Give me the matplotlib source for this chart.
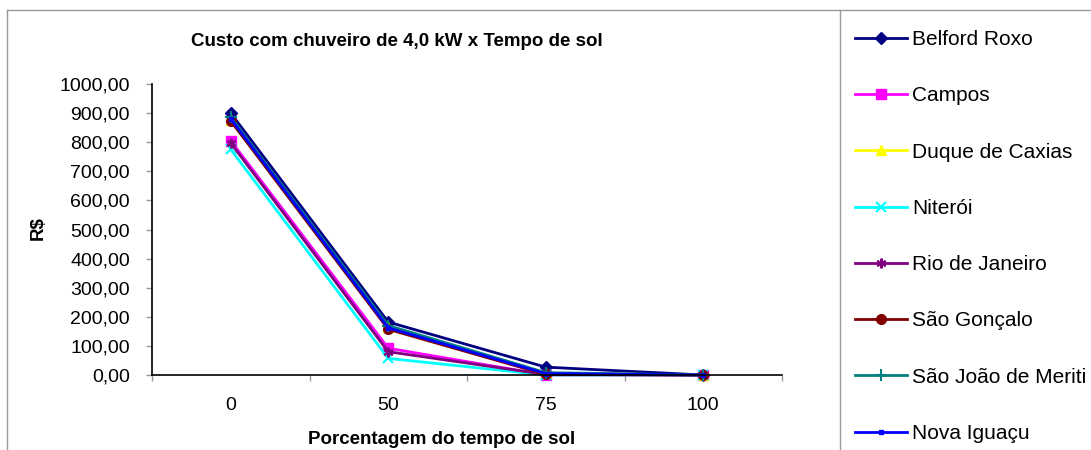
import matplotlib
matplotlib.use("Agg")
import matplotlib.pyplot as plt
from matplotlib.lines import Line2D

plt.rcParams['font.family'] = ['Liberation Sans', 'DejaVu Sans']

# dados
categorias = ["0", "50", "75", "100"]
belford_roxo = [900, 182, 27, 0]
campos = [805, 92, 0, 0]
duque_de_caxias = [875, 165, 6, 0]
niteroi = [775, 57, 0, 0]
rio_de_janeiro = [797, 80, 2, 0]
sao_goncalo = [873, 157, 2, 0]
sao_joao_de_meriti = [885, 170, 8, 0]
nova_iguacu = [880, 162, 5, 0]

nomes = ["Belford Roxo", "Campos", "Duque de Caxias", "Niterói",
         "Rio de Janeiro", "São Gonçalo", "São João de Meriti", "Nova Iguaçu"]
series = [belford_roxo, campos, duque_de_caxias, niteroi,
          rio_de_janeiro, sao_goncalo, sao_joao_de_meriti, nova_iguacu]
yticks = [0, 100, 200, 300, 400, 500, 600, 700, 800, 900, 1000]

cores = ["#000080", "#FF00FF", "#FFFF00", "#00FFFF",
         "#800080", "#800000", "#008080", "#0000FF"]
marcadores = ["D", "s", "^", "x", (6, 2, 0), "o", "+", "s"]
tamanhos = [6, 7, 7, 7, 7, 7, 8, 3.5]

W, H = 1091, 450
fig = plt.figure(figsize=(W / 100, H / 100), dpi=100)
ax = fig.add_axes([152 / W, 1 - 375 / H, (782 - 152) / W, (375 - 84) / H])

x = list(range(len(categorias)))
for nome, vals, c, m, s in zip(nomes, series, cores, marcadores, tamanhos):
    ax.plot(x, vals, color=c, marker=m, markersize=s, lw=2,
            markeredgewidth=1.5 if m in ("x", "+", (6, 2, 0)) else 1,
            markeredgecolor=c, markerfacecolor=c, label=nome, clip_on=False)

ax.set_xlim(-0.5, 3.5)
ax.set_ylim(0, 1000)
ax.set_yticks(yticks)
ax.set_yticklabels([f"{v:.2f}".replace(".", ",") for v in yticks])
ax.set_xticks(x)
ax.set_xticklabels(categorias)
ax.set_xticks([i - 0.5 for i in range(len(categorias) + 1)], minor=True)
ax.tick_params(axis="x", which="major", length=0, pad=16, labelsize=14)
ax.tick_params(axis="x", which="minor", length=4.5, color="#999999", width=1)
ax.tick_params(axis="y", length=4.5, color="#999999", width=1, labelsize=14, pad=11.5)

for sp in ["top", "right"]:
    ax.spines[sp].set_visible(False)
for sp in ["left", "bottom"]:
    ax.spines[sp].set_color("black")
    ax.spines[sp].set_linewidth(1.2)

fig.text(397 / W, 1 - 42 / H, "Custo com chuveiro de 4,0 kW x Tempo de sol",
         ha="center", va="center", fontsize=13.5, fontweight="bold")
fig.text(442 / W, 1 - 440 / H, "Porcentagem do tempo de sol",
         ha="center", va="center", fontsize=13.5, fontweight="bold")
fig.text(38 / W, 1 - 228 / H, "R$", rotation=90,
         ha="center", va="center", fontsize=13.5, fontweight="bold")

# moldura
borda = "#999999"
fig.add_artist(Line2D([7 / W, 7 / W], [0, 1 - 10 / H], color=borda, lw=1))
fig.add_artist(Line2D([7 / W, 1], [1 - 10 / H, 1 - 10 / H], color=borda, lw=1))
fig.add_artist(Line2D([840 / W, 840 / W], [0, 1 - 10 / H], color=borda, lw=1))

leg = fig.legend(loc="upper left", bbox_to_anchor=(855 / W, 1 - 30 / H),
                 frameon=False, fontsize=15, handlelength=2.5,
                 handletextpad=0.25, labelspacing=1.79, borderaxespad=0,
                 borderpad=0)

fig.savefig("out.png", dpi=100)
